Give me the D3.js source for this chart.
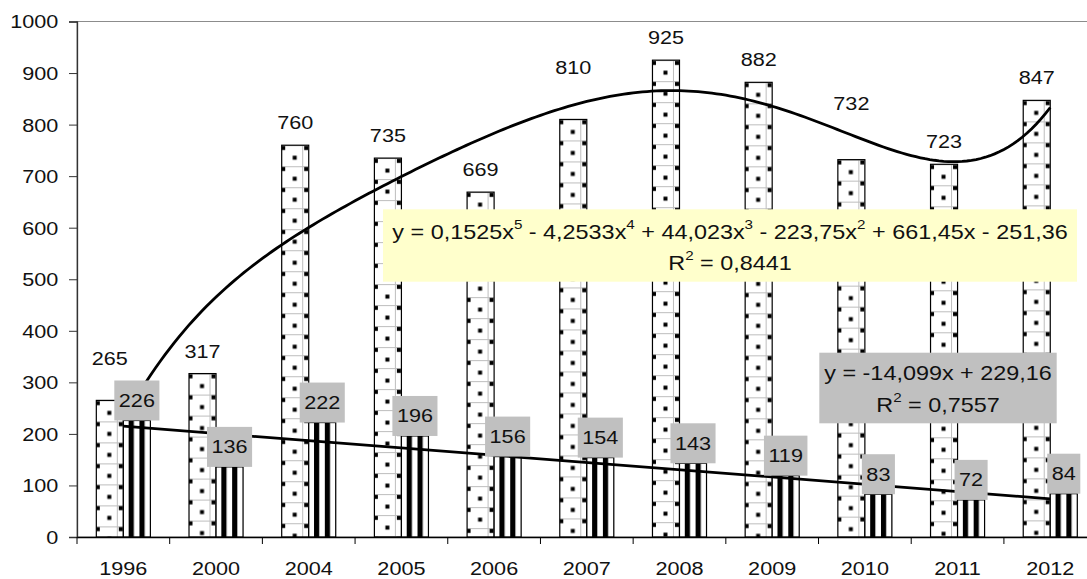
<!DOCTYPE html>
<html>
<head>
<meta charset="utf-8">
<script src="https://cdn.jsdelivr.net/npm/d3@7"></script>
<style>
  body { margin: 0; background: #fff; }
  svg { display: block; }
  text { font-family: "Liberation Sans", Arial, sans-serif; fill: #111; }
</style>
</head>
<body>
<svg id="chart" width="1087" height="579"></svg>
<script>
// ---- data ----
const years   = ["1996", "2000", "2004", "2005", "2006", "2007", "2008", "2009", "2010", "2011", "2012"];
const totals  = [265, 317, 760, 735, 669, 810, 925, 882, 732, 723, 847];
const subset  = [226, 136, 222, 196, 156, 154, 143, 119, 83, 72, 84];
const yTicks  = [0, 100, 200, 300, 400, 500, 600, 700, 800, 900, 1000];

// trendline coefficients, constant term first
const polyCoef = [-251.36, 661.45, -223.75, 44.023, -4.2533, 0.1525];
const polyR2   = "0,8441";
const linCoef  = [229.16, -14.099];
const linR2    = "0,7557";

// ---- layout ----
const plotLeft = 77, plotBottom = 537, plotTop = 21.5, plotRight = 1096.6;
const FS = 18.5, SX = 1.17;            // font size and horizontal stretch of all text
const EQ_FS = 20, SUP_FS = 13;         // trendline equation text
const labelLift = { "1996": 19, "2007": 29, "2010": 34 };   // labels moved clear of the curve

const svg = d3.select("#chart");
const defs = svg.append("defs");

const x = d3.scaleBand().domain(years).range([plotLeft, plotRight]).padding(0);
const x1 = d3.scaleBand().domain(["a", "b"]).range([0, x.bandwidth()]).paddingInner(0).paddingOuter(0.715);
const y = d3.scaleLinear().domain([0, 1000]).range([plotBottom, plotTop]);
const xIdx = d3.scaleLinear().domain([1, years.length])
  .range([x(years[0]) + x.bandwidth() / 2, x(years[years.length - 1]) + x.bandwidth() / 2]);

// plot area border
svg.append("rect")
  .attr("x", plotLeft).attr("y", y(1000))
  .attr("width", plotRight - plotLeft).attr("height", plotBottom - y(1000))
  .attr("fill", "none").attr("stroke", "#8c8c8c").attr("stroke-width", 1);

// ---- fill patterns ----
function dotPattern(id, px, py) {
  const p = defs.append("pattern").attr("id", id)
    .attr("patternUnits", "userSpaceOnUse")
    .attr("x", px).attr("y", py).attr("width", 23).attr("height", 21);
  p.append("rect").attr("width", 23).attr("height", 21).attr("fill", "#fff");
  p.append("line").attr("x1", 0).attr("x2", 23).attr("y1", 0.5).attr("y2", 0.5)
    .attr("stroke", "#bdbdbd").attr("stroke-width", 1);
  p.append("line").attr("x1", 19.5).attr("x2", 19.5).attr("y1", 0).attr("y2", 21)
    .attr("stroke", "#bdbdbd").attr("stroke-width", 1);
  const s = 4;
  p.append("rect").attr("x", -s / 2).attr("y", 0.8).attr("width", s).attr("height", s).attr("fill", "#000");
  p.append("rect").attr("x", 23 - s / 2).attr("y", 0.8).attr("width", s).attr("height", s).attr("fill", "#000");
  p.append("rect").attr("x", 11.5 - s / 2).attr("y", 10.5).attr("width", s).attr("height", s).attr("fill", "#000");
}
function stripePattern(id, px) {
  const p = defs.append("pattern").attr("id", id)
    .attr("patternUnits", "userSpaceOnUse")
    .attr("x", px).attr("y", 0).attr("width", 10.8).attr("height", 10);
  p.append("rect").attr("width", 10.8).attr("height", 10).attr("fill", "#fff");
  p.append("rect").attr("x", 0).attr("width", 5.2).attr("height", 10).attr("fill", "#000");
}

// ---- bars ----
const gBars = svg.append("g");
years.forEach((yr, i) => {
  const xa = x(yr) + x1("a"), xb = x(yr) + x1("b");
  dotPattern("dots" + i, xa + 1.5, y(totals[i]));
  stripePattern("stripes" + i, xb + 5.3);
  gBars.append("rect")
    .attr("x", xa).attr("y", y(totals[i]))
    .attr("width", x1.bandwidth()).attr("height", y(0) - y(totals[i]))
    .attr("fill", `url(#dots${i})`).attr("stroke", "#000").attr("stroke-width", 1.2);
  gBars.append("rect")
    .attr("x", xb).attr("y", y(subset[i]))
    .attr("width", x1.bandwidth()).attr("height", y(0) - y(subset[i]))
    .attr("fill", `url(#stripes${i})`).attr("stroke", "#000").attr("stroke-width", 1.2);
});

// ---- axes ----
const yAxis = svg.append("g").attr("transform", `translate(${plotLeft},0)`)
  .call(d3.axisLeft(y).tickValues(yTicks).tickSize(8).tickPadding(0).tickFormat(d3.format("d")));
yAxis.select(".domain").attr("stroke", "#333").attr("stroke-width", 1.3);
yAxis.selectAll(".tick line").attr("stroke", "#333");
yAxis.selectAll(".tick text")
  .attr("x", 0).attr("dy", null)
  .attr("dominant-baseline", "central")
  .attr("font-size", FS)
  .attr("transform", `translate(-18.7,0) scale(${SX},1)`);

const xAxis = svg.append("g").attr("transform", `translate(0,${plotBottom})`)
  .call(d3.axisBottom(x).tickSize(0).tickPadding(0));
xAxis.select(".domain").attr("stroke", "#000").attr("stroke-width", 1.3);
xAxis.selectAll(".tick text")
  .attr("y", 0).attr("dy", null)
  .attr("dominant-baseline", "central")
  .attr("font-size", FS)
  .attr("transform", `translate(0,32) scale(${SX},1)`);
// category boundary ticks
xAxis.selectAll(".bound").data(years.map(yr => x(yr)).concat([plotRight]))
  .enter().append("line").attr("class", "bound")
  .attr("x1", d => d).attr("x2", d => d).attr("y1", 0).attr("y2", 7)
  .attr("stroke", "#000").attr("stroke-width", 1);

// ---- trendlines ----
const poly = t => polyCoef.reduce((s, c, k) => s + c * Math.pow(t, k), 0);
const lin = t => linCoef[0] + linCoef[1] * t;
const ts = d3.range(1, years.length + 0.0001, 0.05);
const lineGen = d3.line().x(d => xIdx(d[0])).y(d => y(d[1])).curve(d3.curveLinear);

svg.append("path").datum(ts.map(t => [t, poly(t)]))
  .attr("d", lineGen).attr("fill", "none").attr("stroke", "#000").attr("stroke-width", 2.8);
svg.append("path").datum([[1, lin(1)], [years.length, lin(years.length)]])
  .attr("d", lineGen).attr("fill", "none").attr("stroke", "#000").attr("stroke-width", 2.8);

// ---- value labels ----
function stretched(g, px, py, str, anchor) {
  return g.append("text")
    .attr("transform", `translate(${px},${py}) scale(${SX},1)`)
    .attr("text-anchor", anchor || "middle")
    .attr("dominant-baseline", "central")
    .attr("font-size", FS)
    .text(str);
}

const gLab = svg.append("g");
years.forEach((yr, i) => {
  const cx = x(yr) + x1("a") + x1.bandwidth() / 2;
  const lift = labelLift[yr] || 0;
  stretched(gLab, cx, y(totals[i]) - 22.5 - lift, String(totals[i]));
});

years.forEach((yr, i) => {
  const cx = x(yr) + x1("b") + x1.bandwidth() / 2;
  const g = gLab.append("g");
  const box = g.append("rect").attr("fill", "#c0c0c0");
  const t = stretched(g, cx, y(subset[i]) - 20, String(subset[i]));
  const w = t.node().getComputedTextLength() * SX + 9;
  box.attr("x", cx - w / 2).attr("y", y(subset[i]) - 40).attr("width", w).attr("height", 40);
});

// ---- trendline equation boxes ----
const num = v => String(Math.abs(v)).replace(".", ",");
const sgn = v => (v < 0 ? " - " : " + ");

function equationBox(bx, by, bw, bh, fill, parts, r2, y1, y2) {
  const g = svg.append("g");
  g.append("rect").attr("x", bx).attr("y", by).attr("width", bw).attr("height", bh).attr("fill", fill);
  const cx = bx + bw / 2;
  const t1 = g.append("text")
    .attr("transform", `translate(${cx},${y1}) scale(${SX},1)`)
    .attr("text-anchor", "middle").attr("dominant-baseline", "central").attr("font-size", EQ_FS);
  parts.forEach(p => {
    if (p.sup) t1.append("tspan").attr("font-size", SUP_FS).attr("dy", -8).text(p.sup);
    else t1.append("tspan").attr("dy", p.after ? 8 : 0).text(p.s);
  });
  const t2 = g.append("text")
    .attr("transform", `translate(${cx},${y2}) scale(${SX},1)`)
    .attr("text-anchor", "middle").attr("dominant-baseline", "central").attr("font-size", EQ_FS);
  t2.append("tspan").text("R");
  t2.append("tspan").attr("font-size", SUP_FS).attr("dy", -8).text("2");
  t2.append("tspan").attr("dy", 8).text(" = " + r2);
}

// polynomial: highest power first
const polyParts = [];
for (let k = polyCoef.length - 1; k >= 0; k--) {
  const c = polyCoef[k];
  const lead = k === polyCoef.length - 1 ? "y = " + (c < 0 ? "-" : "") : sgn(c);
  const after = polyParts.length > 0 && !!polyParts[polyParts.length - 1].sup;
  if (k >= 2) {
    polyParts.push({ s: lead + num(c) + "x", after });
    polyParts.push({ sup: String(k) });
  } else if (k === 1) {
    polyParts.push({ s: lead + num(c) + "x", after });
  } else {
    polyParts.push({ s: lead + num(c), after });
  }
}
equationBox(383, 209.3, 694, 72.4, "#ffffcc", polyParts, polyR2, 232, 263);

const linParts = [{ s: "y = " + (linCoef[1] < 0 ? "-" : "") + num(linCoef[1]) + "x" + sgn(linCoef[0]) + num(linCoef[0]) }];
equationBox(819.3, 352.7, 237.4, 70.6, "#c0c0c0", linParts, linR2, 373, 405);
</script>
</body>
</html>
